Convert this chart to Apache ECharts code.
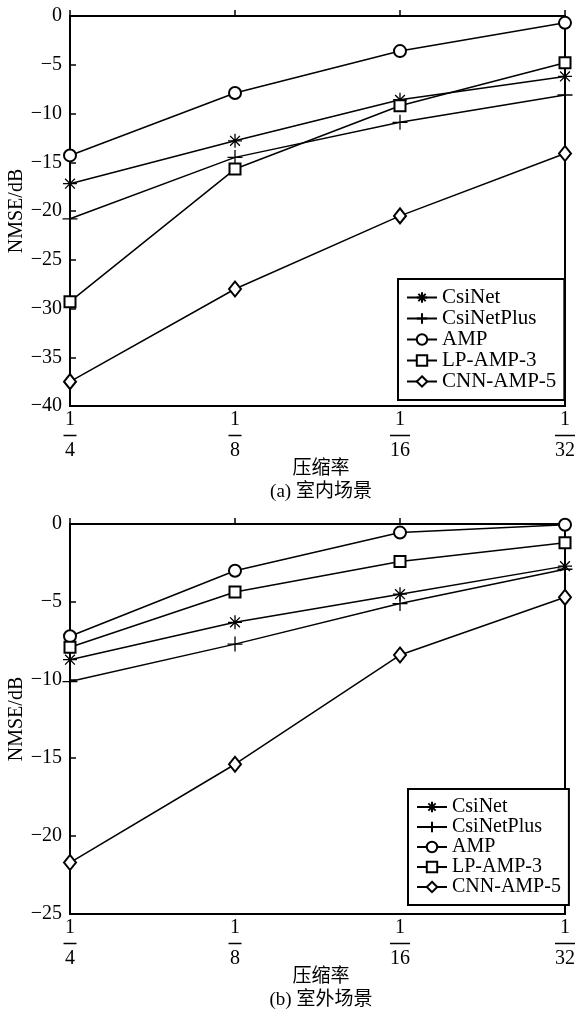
<!DOCTYPE html>
<html>
<head>
<meta charset="utf-8">
<script src="https://cdn.jsdelivr.net/npm/echarts@6/dist/echarts.min.js"></script>
<style>
html,body{margin:0;padding:0;background:#fff;}
#c{width:578px;height:1018px;}
</style>
</head>
<body>
<div id="c"></div>
<script>
// ---- data ----
const categories = ['1/4', '1/8', '1/16', '1/32'];
const seriesNames = ['CsiNet', 'CsiNetPlus', 'AMP', 'LP-AMP-3', 'CNN-AMP-5'];

// (a) indoor
const indoorCsiNet     = [-17.2, -12.8, -8.6, -6.2];
const indoorCsiNetPlus = [-20.8, -14.5, -10.9, -8.1];
const indoorAMP        = [-14.3, -7.9, -3.6, -0.7];
const indoorLPAMP3     = [-29.3, -15.7, -9.2, -4.8];
const indoorCNNAMP5    = [-37.5, -28.0, -20.5, -14.1];

// (b) outdoor
const outdoorCsiNet     = [-8.7, -6.3, -4.5, -2.7];
const outdoorCsiNetPlus = [-10.1, -7.7, -5.1, -2.9];
const outdoorAMP        = [-7.2, -3.0, -0.55, -0.05];
const outdoorLPAMP3     = [-7.9, -4.36, -2.4, -1.2];
const outdoorCNNAMP5    = [-21.7, -15.4, -8.4, -4.7];

const indoorYTicks = { min: -40, max: 0, interval: 5 };
const outdoorYTicks = { min: -25, max: 0, interval: 5 };

// ---- styling ----
const SERIF = '"Liberation Serif", "Times New Roman", serif';
const CJK = '"Liberation Serif", "Noto Sans CJK SC", serif';
const starPath = 'path://M0,-6L0,6M-6,0L6,0M-4.2,-4.2L4.2,4.2M-4.2,4.2L4.2,-4.2';
const plusPath = 'path://M0,-7L0,7M-7,0L7,0';
const markerStyle = {
  'CsiNet': { symbol: starPath, symbolSize: 14 },
  'CsiNetPlus': { symbol: plusPath, symbolSize: 15 },
  'AMP': { symbol: 'emptyCircle', symbolSize: 12 },
  'LP-AMP-3': { symbol: 'emptyRect', symbolSize: 11 },
  'CNN-AMP-5': { symbol: 'emptyDiamond', symbolSize: [12, 15] }
};

function mkSeries(name, data, idx) {
  const m = markerStyle[name];
  return {
    name: name, type: 'line', data: data,
    xAxisIndex: idx, yAxisIndex: idx,
    symbol: m.symbol, symbolSize: m.symbolSize, showAllSymbol: true,
    lineStyle: { color: '#000', width: 1.5 },
    itemStyle: { color: '#000', borderColor: '#000', borderWidth: 1.3 },
    emphasis: { disabled: true },
    z: 3
  };
}

function xAxis(idx) {
  return {
    type: 'category', gridIndex: idx, data: categories, boundaryGap: false,
    axisLine: { lineStyle: { color: '#000', width: 2 } },
    axisTick: { inside: true, length: 6, lineStyle: { color: '#000', width: 1.5 } },
    splitLine: { show: false },
    axisLabel: {
      margin: 5,
      formatter: function (v) {
        const parts = v.split('/');
        const bar = parts[1].length > 1 ? 'b2' : 'b1';
        return '{n|' + parts[0] + '}\n{' + bar + '| }\n{d|' + parts[1] + '}';
      },
      rich: {
        n: { fontFamily: SERIF, fontSize: 20, lineHeight: 18, color: '#000', align: 'center' },
        d: { fontFamily: SERIF, fontSize: 20, lineHeight: 18, color: '#000', align: 'center' },
        b1: { width: 13, height: 1.5, lineHeight: 13, backgroundColor: '#000', fontSize: 1, align: 'center' },
        b2: { width: 20, height: 1.5, lineHeight: 13, backgroundColor: '#000', fontSize: 1, align: 'center' }
      }
    }
  };
}

function yAxis(idx, t) {
  return {
    type: 'value', gridIndex: idx, min: t.min, max: t.max, interval: t.interval,
    axisLine: { show: true, lineStyle: { color: '#000', width: 2 } },
    axisTick: { show: true, inside: true, length: 6, lineStyle: { color: '#000', width: 1.5 } },
    splitLine: { show: false },
    axisLabel: {
      margin: 8, color: '#000', fontFamily: SERIF, fontSize: 20,
      formatter: function (v) { return String(v).replace('-', '\u2212'); }
    }
  };
}

function legend(left, top, fs) {
  return {
    orient: 'vertical', left: left, top: top, data: seriesNames,
    itemWidth: 30, itemHeight: 13, itemGap: 0,
    padding: [8, 8, 8, 8],
    borderColor: '#000', borderWidth: 2, backgroundColor: '#fff',
    selectedMode: false,
    textStyle: { fontFamily: SERIF, fontSize: fs, lineHeight: 20, color: '#000', padding: [0, 0, 0, 0] }
  };
}

const chart = echarts.init(document.getElementById('c'), null, { renderer: 'canvas' });
chart.setOption({
  animation: false,
  backgroundColor: '#fff',
  grid: [
    { left: 70, top: 16, width: 500, height: 390, show: true, borderColor: '#000', borderWidth: 2, backgroundColor: 'transparent' },
    { left: 70, top: 524, width: 500, height: 390, show: true, borderColor: '#000', borderWidth: 2, backgroundColor: 'transparent' }
  ],
  xAxis: [xAxis(0), xAxis(1)],
  yAxis: [yAxis(0, indoorYTicks), yAxis(1, outdoorYTicks)],
  legend: [legend(398, 279, 21), legend(408, 789, 20)],
  series: [
    mkSeries('CsiNet', indoorCsiNet, 0),
    mkSeries('CsiNetPlus', indoorCsiNetPlus, 0),
    mkSeries('AMP', indoorAMP, 0),
    mkSeries('LP-AMP-3', indoorLPAMP3, 0),
    mkSeries('CNN-AMP-5', indoorCNNAMP5, 0),
    mkSeries('CsiNet', outdoorCsiNet, 1),
    mkSeries('CsiNetPlus', outdoorCsiNetPlus, 1),
    mkSeries('AMP', outdoorAMP, 1),
    mkSeries('LP-AMP-3', outdoorLPAMP3, 1),
    mkSeries('CNN-AMP-5', outdoorCNNAMP5, 1)
  ],
  graphic: [
    { type: 'text', x: 17, y: 211, rotation: Math.PI / 2, style: { text: 'NMSE/dB', fontFamily: SERIF, fontSize: 20, fill: '#000', align: 'center', verticalAlign: 'middle' } },
    { type: 'text', x: 17, y: 719, rotation: Math.PI / 2, style: { text: 'NMSE/dB', fontFamily: SERIF, fontSize: 20, fill: '#000', align: 'center', verticalAlign: 'middle' } },
    { type: 'text', x: 321, y: 469, style: { text: '压缩率', fontFamily: CJK, fontSize: 19, fill: '#000', align: 'center', verticalAlign: 'middle' } },
    { type: 'text', x: 321, y: 492, style: { text: '(a) 室内场景', fontFamily: CJK, fontSize: 19, fill: '#000', align: 'center', verticalAlign: 'middle' } },
    { type: 'text', x: 321, y: 977, style: { text: '压缩率', fontFamily: CJK, fontSize: 19, fill: '#000', align: 'center', verticalAlign: 'middle' } },
    { type: 'text', x: 321, y: 1000, style: { text: '(b) 室外场景', fontFamily: CJK, fontSize: 19, fill: '#000', align: 'center', verticalAlign: 'middle' } }
  ]
});
</script>
</body>
</html>
